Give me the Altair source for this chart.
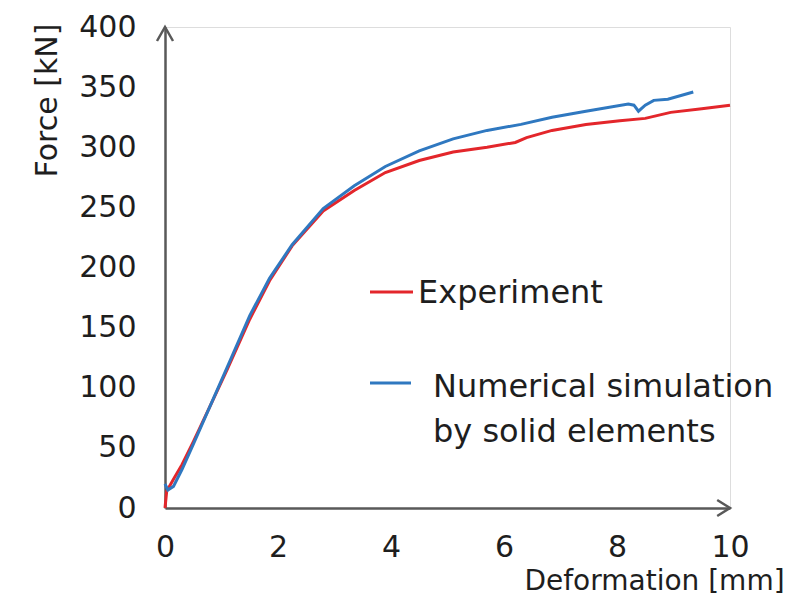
import altair as alt
import pandas as pd

series = ["Experiment", "Numerical simulation by solid elements"]
legend_lines = ["Experiment", "Numerical simulation\nby solid elements"]
colors = ["#e3262b", "#2f78c0"]

exp_x = [0, 0.03, 0.15, 0.3, 0.5, 0.8, 1.1, 1.5, 1.85, 2.25, 2.8, 3.35, 3.9, 4.5,
         5.1, 5.7, 6.2, 6.4, 6.85, 7.45, 8.05, 8.5, 8.95, 9.5, 10]
exp_y = [0, 14, 24, 36, 55, 85, 115, 157, 189, 218, 247, 264, 279, 289,
         296, 300, 304, 308, 314, 319, 322, 324, 329, 332, 335]

sim_x = [0, 0.05, 0.15, 0.3, 0.5, 0.8, 1.1, 1.5, 1.85, 2.25, 2.8, 3.35, 3.9, 4.5,
         5.1, 5.7, 6.3, 6.85, 7.45, 8.2, 8.3, 8.38, 8.5, 8.65, 8.9, 9.35]
sim_y = [20, 15, 18, 32, 53, 85, 117, 160, 191, 219, 249, 268, 284, 297,
         307, 314, 319, 325, 330, 336, 335, 330, 335, 339, 340, 346]

x_ticks = [0, 2, 4, 6, 8, 10]
y_ticks = [0, 50, 100, 150, 200, 250, 300, 350, 400]

rows = []
for i, (xs, ys) in enumerate([(exp_x, exp_y), (sim_x, sim_y)]):
    for k, (a, b) in enumerate(zip(xs, ys)):
        rows.append({"series": series[i], "x": a, "y": b, "order": k})
df = pd.DataFrame(rows)

FONT = "DejaVu Sans"
AX = "#595959"
TXT = "#1e1e1e"

xscale = alt.Scale(domain=[0, 10], nice=False, zero=False)
yscale = alt.Scale(domain=[0, 400], nice=False)

lines = alt.Chart(df).mark_line(strokeWidth=3).encode(
    x=alt.X("x:Q", scale=xscale, axis=alt.Axis(
        values=x_ticks, format="d", title="Deformation [mm]", grid=False, ticks=False, tickSize=0,
        domainColor=AX, domainWidth=2.5, labelFont=FONT, labelFontSize=30,
        labelColor=TXT, labelPadding=39, labelBaseline="middle",
        titleFont=FONT, titleFontSize=28, titleFontWeight="normal", titleColor=TXT,
        titleX=489, titleY=73, titleAlign="center", titleBaseline="middle",
        labelFlush=False)),
    y=alt.Y("y:Q", scale=yscale, axis=alt.Axis(
        values=y_ticks, format="d", title="Force [kN]", grid=False, ticks=False, tickSize=0,
        domainColor=AX, domainWidth=2.5, labelFont=FONT, labelFontSize=30,
        labelColor=TXT, labelPadding=29, labelFlush=False,
        titleFont=FONT, titleFontSize=30, titleFontWeight="normal", titleColor=TXT,
        titleX=-118, titleY=73, titleAngle=270, titleAlign="center", titleBaseline="middle")),
    color=alt.Color("series:N", scale=alt.Scale(domain=series, range=colors), legend=None),
    order="order:Q",
)

arrow_y = alt.Chart(pd.DataFrame({"x": [0], "y": [400]})).mark_point(
    shape="M-1,1.75L0,0L1,1.75", filled=False, size=256, strokeWidth=2.5,
    color=AX, opacity=1).encode(x=alt.X("x:Q", scale=xscale), y=alt.Y("y:Q", scale=yscale))

arrow_x = alt.Chart(pd.DataFrame({"x": [10], "y": [0]})).mark_point(
    shape="M-1.6,-1L0,0L-1.6,1", filled=False, size=256, strokeWidth=2.5,
    color=AX, opacity=1).encode(x=alt.X("x:Q", scale=xscale), y=alt.Y("y:Q", scale=yscale))

leg = pd.DataFrame({
    "series": series,
    "label": legend_lines,
    "x1": [205, 205], "x2": [248, 246], "ys": [265, 356],
    "tx": [253, 268], "ty": [276, 370],
})

leg_rule = alt.Chart(leg).mark_rule(strokeWidth=3).encode(
    x=alt.X("x1:Q", scale=None), x2="x2:Q", y=alt.Y("ys:Q", scale=None),
    color=alt.Color("series:N", scale=alt.Scale(domain=series, range=colors), legend=None),
)
leg_text = alt.Chart(leg).mark_text(
    align="left", baseline="alphabetic", font=FONT, fontSize=32, color=TXT,
    lineBreak="\n", lineHeight=45).encode(
    x=alt.X("tx:Q", scale=None), y=alt.Y("ty:Q", scale=None), text="label:N")

chart = alt.layer(lines, arrow_y, arrow_x, leg_rule, leg_text).properties(
    width=565, height=481,
    padding={"left": 157, "top": 19, "right": 67, "bottom": 92},
    autosize=alt.AutoSizeParams(type="none"),
).configure_view(stroke=None).configure(background="white")

chart.save("out.html", embed_options={"renderer": "svg", "actions": False})
